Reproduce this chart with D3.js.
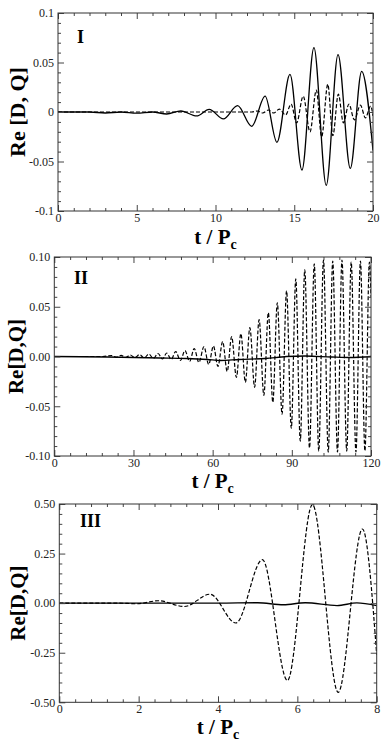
<!DOCTYPE html>
<html><head><meta charset="utf-8">
<script src="https://cdn.jsdelivr.net/npm/d3@7"></script>
<style>body{margin:0;background:#fff} svg{display:block}</style>
</head><body>
<svg id="c" width="383" height="744"></svg>
<script>
// ---------- Panel I ----------
const p1XTicks = [0, 5, 10, 15, 20];
const p1YTicks = [-0.1, -0.05, 0, 0.05, 0.1];
const p1YLabels = ["-0.1", "-0.05", "0", "0.05", "0.1"];
const p1SolidT = [0, 2, 3, 4, 5, 6, 6.9, 7.8, 8.8, 9.6, 10.5, 11.4, 12.3, 13.15, 13.9, 14.73, 15.49, 16.25, 17.03, 17.78, 18.56, 19.28, 20];
const p1SolidV = [0, 0, -0.001, 0, -0.0012, 0, -0.002, 0.001, -0.004, 0.0027, -0.007, 0.0064, -0.0145, 0.016, -0.0306, 0.038, -0.0586, 0.065, -0.074, 0.058, -0.057, 0.041, -0.039];
const p1DashT = [0, 11.5, 12.3, 12.65, 13.0, 13.35, 13.7, 14.05, 14.45, 14.8, 15.15, 15.57, 16.0, 16.4, 16.74, 17.13, 17.45, 17.8, 18.12, 18.47, 18.82, 19.2, 19.52, 19.85, 20];
const p1DashV = [0, 0, 0, 0.001, -0.001, 0.002, -0.001, 0.003, -0.003, 0.008, -0.011, 0.016, -0.02, 0.022, -0.025, 0.028, -0.024, 0.018, -0.011, 0.008, -0.008, 0.007, -0.006, 0.006, -0.004];

// ---------- Panel II ----------
const p2XTicks = [0, 30, 60, 90, 120];
const p2YTicks = [-0.1, -0.05, 0, 0.05, 0.1];
const p2YLabels = ["-0.10", "-0.05", "0.00", "0.05", "0.10"];
const p2SolidT = [0, 20, 40, 50, 58, 63, 70, 80, 88, 95, 105, 112, 120];
const p2SolidV = [0, -0.0005, -0.0015, -0.002, -0.003, -0.004, -0.003, -0.002, 0, 0.0005, -0.0005, -0.001, 0];
const p2DashT = [0, 18.3, 21.8, 23.55, 25.3, 27.05, 28.8, 30.55, 32.3, 34.05, 35.8, 37.55, 39.3, 41.0, 42.6, 44.3, 46.0, 47.8, 49.5, 51.3, 53.0, 54.8, 56.7, 58.5, 60.3, 62.0, 63.8, 65.5, 67.2, 69.0, 70.7, 72.4, 74.1, 75.9, 77.6, 79.4, 81.1, 82.8, 84.5, 86.3, 88.0, 89.8, 91.5, 93.2, 94.9, 96.7, 98.5, 100.2, 102.0, 103.8, 105.5, 107.3, 109.0, 110.8, 112.5, 114.3, 116.0, 117.7, 119.4, 120];
const p2DashV = [0, 0, 0.001, -0.0008, 0.0012, -0.001, 0.0015, -0.0012, 0.002, -0.0015, 0.0025, -0.002, 0.003, -0.0025, 0.0035, -0.003, 0.005, -0.004, 0.006, -0.005, 0.008, -0.006, 0.010, -0.008, 0.0105, -0.010, 0.015, -0.015, 0.020, -0.021, 0.023, -0.026, 0.029, -0.031, 0.037, -0.039, 0.044, -0.046, 0.054, -0.058, 0.066, -0.072, 0.078, -0.085, 0.087, -0.092, 0.093, -0.095, 0.097, -0.096, 0.096, -0.096, 0.097, -0.095, 0.095, -0.096, 0.096, -0.095, 0.095, 0.06];

// ---------- Panel III ----------
const p3XTicks = [0, 2, 4, 6, 8];
const p3YTicks = [-0.5, -0.25, 0, 0.25, 0.5];
const p3YLabels = ["-0.50", "-0.25", "0.00", "0.25", "0.50"];
const p3SolidT = [0, 4, 5.0, 5.65, 6.2, 7.0, 7.5, 8];
const p3SolidV = [0, 0, 0.002, -0.008, 0.002, -0.012, 0.001, -0.012];
const p3DashT = [0, 1.5, 1.95, 2.5, 3.15, 3.8, 4.45, 5.12, 5.75, 6.38, 7.03, 7.64, 8];
const p3DashV = [0, 0, -0.003, 0.012, -0.017, 0.045, -0.10, 0.219, -0.39, 0.497, -0.45, 0.374, -0.26];

const panels = [
  {box:[58, 373, 13, 211], xDom:[0,20], yDom:[-0.1,0.1], xTicks:p1XTicks, xMinor:1, yTicks:p1YTicks, yLabels:p1YLabels, yMinor:0.01,
   label:"I", labelPos:[77, 43], ytitle:"Re [D, Q]", ytSize:22, ytX:25, xtY:244,
   solid:[p1SolidT, p1SolidV], dashed:[p1DashT, p1DashV]},
  {box:[54.3, 371, 257, 456], xDom:[0,120], yDom:[-0.1,0.1], xTicks:p2XTicks, xMinor:6, yTicks:p2YTicks, yLabels:p2YLabels, yMinor:0.01,
   label:"II", labelPos:[74, 284], ytitle:"Re[D,Q]", ytSize:21, ytX:23, xtY:488,
   solid:[p2SolidT, p2SolidV], dashed:[p2DashT, p2DashV]},
  {box:[59.3, 376.7, 504, 702.3], xDom:[0,8], yDom:[-0.5,0.5], xTicks:p3XTicks, xMinor:0.4, yTicks:p3YTicks, yLabels:p3YLabels, yMinor:0.05,
   label:"III", labelPos:[80, 527], ytitle:"Re[D,Q]", ytSize:21, ytX:25, xtY:734,
   solid:[p3SolidT, p3SolidV], dashed:[p3DashT, p3DashV]}
];

const svg = d3.select("#c");
const serif = "'Liberation Serif','Times New Roman',serif";

panels.forEach(p => {
  const [L, R, T, B] = p.box;
  const x = d3.scaleLinear().domain(p.xDom).range([L, R]);
  const y = d3.scaleLinear().domain(p.yDom).range([B, T]);
  const g = svg.append("g");
  const minorX = d3.range(p.xDom[0], p.xDom[1] + 1e-9, p.xMinor).filter(v => !p.xTicks.some(t => Math.abs(t - v) < 1e-9));
  const minorY = d3.range(p.yDom[0], p.yDom[1] + 1e-9, p.yMinor).filter(v => !p.yTicks.some(t => Math.abs(t - v) < 1e-9));

  const cid = "clip" + p.label;
  svg.append("clipPath").attr("id", cid).append("rect").attr("x", L).attr("y", T).attr("width", R - L).attr("height", B - T);

  const line = d3.line().x(d => x(d[0])).y(d => y(d[1])).curve(d3.curveMonotoneX);
  const solid = p.solid[0].map((t, i) => [t, p.solid[1][i]]);
  const dashed = p.dashed[0].map((t, i) => [t, p.dashed[1][i]]);
  const lg = g.append("g").attr("clip-path", `url(#${cid})`);
  lg.append("path").attr("d", line(dashed)).attr("fill", "none").attr("stroke", "#000").attr("stroke-width", 1.2).attr("stroke-dasharray", "4,2");
  lg.append("path").attr("d", line(solid)).attr("fill", "none").attr("stroke", "#000").attr("stroke-width", 1.3);

  const fmtY = v => p.yLabels[p.yTicks.findIndex(t => Math.abs(t - v) < 1e-9)];
  const styleAx = s => { s.select(".domain").remove(); s.selectAll("line").attr("stroke", "#444"); s.selectAll("text").attr("font-family", serif).attr("font-size", 12).attr("fill", "#222"); };
  g.append("g").attr("transform", `translate(0,${B})`).call(d3.axisBottom(x).tickValues(p.xTicks).tickSize(-6).tickPadding(2).tickFormat(d3.format("d"))).call(styleAx);
  g.append("g").attr("transform", `translate(0,${B})`).call(d3.axisBottom(x).tickValues(minorX).tickSize(-3).tickFormat("")).call(styleAx);
  g.append("g").attr("transform", `translate(0,${T})`).call(d3.axisTop(x).tickValues(p.xTicks).tickSize(-6).tickFormat("")).call(styleAx);
  g.append("g").attr("transform", `translate(0,${T})`).call(d3.axisTop(x).tickValues(minorX).tickSize(-3).tickFormat("")).call(styleAx);
  g.append("g").attr("transform", `translate(${L},0)`).call(d3.axisLeft(y).tickValues(p.yTicks).tickSize(-6).tickPadding(4).tickFormat(fmtY)).call(styleAx);
  g.append("g").attr("transform", `translate(${L},0)`).call(d3.axisLeft(y).tickValues(minorY).tickSize(-3).tickFormat("")).call(styleAx);
  g.append("g").attr("transform", `translate(${R},0)`).call(d3.axisRight(y).tickValues(p.yTicks).tickSize(-6).tickFormat("")).call(styleAx);
  g.append("g").attr("transform", `translate(${R},0)`).call(d3.axisRight(y).tickValues(minorY).tickSize(-3).tickFormat("")).call(styleAx);

  g.append("rect").attr("x", L).attr("y", T).attr("width", R - L).attr("height", B - T).attr("fill", "none").attr("stroke", "#333").attr("stroke-width", 1);

  g.append("text").attr("x", p.labelPos[0]).attr("y", p.labelPos[1]).attr("font-family", serif).attr("font-weight", "bold").attr("font-size", 18).text(p.label);

  g.append("text").attr("transform", `translate(${p.ytX},${(T + B) / 2}) rotate(-90)`).attr("text-anchor", "middle")
    .attr("font-family", serif).attr("font-weight", "bold").attr("font-size", p.ytSize).text(p.ytitle);

  const xt = g.append("text").attr("x", (L + R) / 2).attr("y", p.xtY).attr("text-anchor", "middle")
    .attr("font-family", serif).attr("font-weight", "bold").attr("font-size", 21);
  xt.append("tspan").text("t / P");
  xt.append("tspan").attr("dy", 5).attr("font-size", 14).text("c");
});
</script>
</body></html>
